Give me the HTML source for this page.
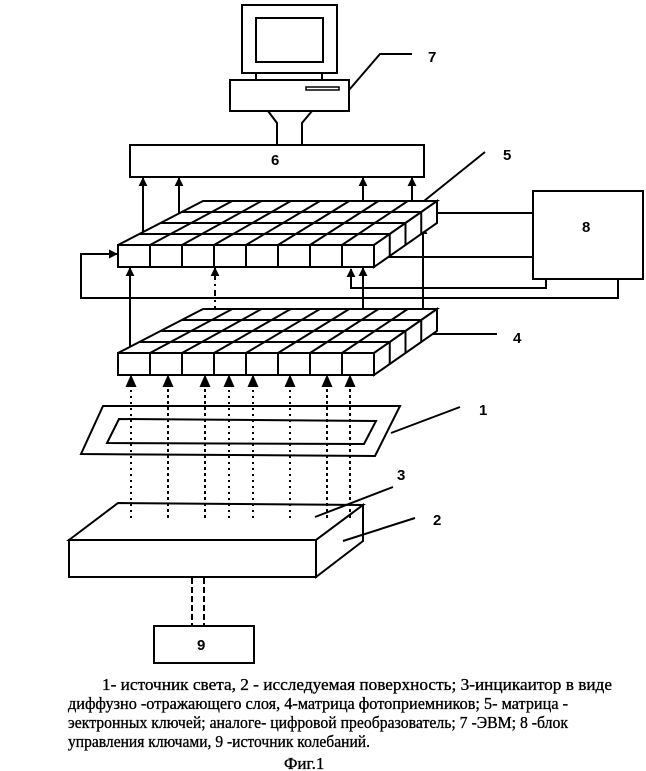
<!DOCTYPE html>
<html><head><meta charset="utf-8"><style>
html,body{margin:0;padding:0;background:#fff;}
svg{display:block;}
text{font-family:"Liberation Serif",serif;fill:#000;}
.lb{font-family:"Liberation Sans",sans-serif;font-weight:bold;font-size:15px;}
.tx{stroke:#000;stroke-width:0.35;}
</style></head><body>
<svg id="s" width="646" height="771" viewBox="0 0 646 771" xmlns="http://www.w3.org/2000/svg">
<defs>
<marker id="a" viewBox="0 0 10 10" refX="9" refY="5" markerWidth="9" markerHeight="9" markerUnits="userSpaceOnUse" orient="auto">
<path d="M0,0 L10,5 L0,10 z" fill="#000"/></marker>
</defs>
<g id="g" stroke="#000" stroke-width="2" fill="none">
<rect x="242" y="5" width="95" height="68" fill="#fff"/>
<rect x="256" y="18" width="67" height="44"/>
<line x1="256" y1="73" x2="256" y2="80"/><line x1="322" y1="73" x2="322" y2="80"/>
<rect x="230" y="80" width="119" height="31" fill="#fff"/>
<rect x="306" y="87" width="33" height="3" stroke-width="1.5"/>
<path d="M268,111 L312,111 L302,123 L302,145 M268,111 L277,123 L277,145"/>
<polyline points="349,90 380,54 412,54"/>
<rect x="130" y="145" width="294" height="32" fill="#fff"/>
<line x1="424" y1="201" x2="485" y2="152"/>
<line x1="420" y1="334" x2="497" y2="334"/>
<rect x="533" y="191" width="110" height="88"/>
<line x1="533" y1="213" x2="428" y2="213" marker-end="url(#a)"/>
<line x1="533" y1="257" x2="376" y2="257" marker-end="url(#a)"/>
<polyline points="546,279 546,288 351,288 351,269" marker-end="url(#a)"/>
<polyline points="618,279 618,298 81,298 81,254 117,254" marker-end="url(#a)"/>
<line x1="423" y1="340" x2="423" y2="226" marker-end="url(#a)"/>
<line x1="143" y1="245" x2="143" y2="178" marker-end="url(#a)"/>
<line x1="179" y1="245" x2="179" y2="178" marker-end="url(#a)"/>
<line x1="363" y1="245" x2="363" y2="178" marker-end="url(#a)"/>
<line x1="412" y1="212" x2="412" y2="178" marker-end="url(#a)"/>
<line x1="130" y1="353" x2="130" y2="268" marker-end="url(#a)"/>
<line x1="363" y1="353" x2="363" y2="268" marker-end="url(#a)"/>
<line x1="215" y1="312" x2="215" y2="268" stroke-dasharray="6,4,2,4" marker-end="url(#a)"/>
<polygon points="81,454 103,406 400,406 375,456" fill="#fff"/>
<polygon points="107,443 119,419 376,421 364,444"/>
<line x1="391" y1="433" x2="460" y2="407"/>
<polygon points="69,540 118,503 363,505 316,540" fill="#fff"/>
<rect x="69" y="540" width="247" height="37" fill="#fff"/>
<polygon points="316,540 363,505 363,541 316,577" fill="#fff"/>
<line x1="315" y1="517" x2="393" y2="487"/>
<line x1="343" y1="541" x2="415" y2="518"/>
<line x1="192" y1="578" x2="192" y2="626" stroke-dasharray="6,3"/>
<line x1="204" y1="578" x2="204" y2="626" stroke-dasharray="6,3"/>
<rect x="154" y="626" width="100" height="37"/>
</g>
<g>
<text class="lb" x="271" y="165">6</text>
<text class="lb" x="428" y="62">7</text>
<text class="lb" x="503" y="160">5</text>
<text class="lb" x="513" y="343">4</text>
<text class="lb" x="582" y="232">8</text>
<text class="lb" x="479" y="415">1</text>
<text class="lb" x="397" y="480">3</text>
<text class="lb" x="433" y="525">2</text>
<text class="lb" x="197" y="650">9</text>
</g>
<g class="tx">
<text x="102" y="690" font-size="17" textLength="510" lengthAdjust="spacingAndGlyphs">1- источник света, 2 - исследуемая поверхность; 3-инцикаитор в виде</text>
<text x="68" y="709" font-size="17" textLength="500" lengthAdjust="spacingAndGlyphs">диффузно -отражающего слоя, 4-матрица фотоприемников; 5- матрица -</text>
<text x="68" y="728" font-size="17" textLength="500" lengthAdjust="spacingAndGlyphs">эектронных ключей; аналоге- цифровой преобразователь; 7 -ЭВМ; 8 -блок</text>
<text x="68" y="747" font-size="17" textLength="302" lengthAdjust="spacingAndGlyphs">управления ключами, 9 -источник колебаний.</text>
<text x="284" y="769" font-size="17">Фиг.1</text>
</g>
</svg>
<script>
(function(){
var g=document.getElementById('g');var NS='http://www.w3.org/2000/svg';
function el(t,a){var e=document.createElementNS(NS,t);for(var k in a)e.setAttribute(k,a[k]);g.appendChild(e);return e;}
function L(x1,y1,x2,y2){el('line',{x1:x1,y1:y1,x2:x2,y2:y2});}
function matrix(y0){
 var fl=118,fr=374,bl=203,br=437,h=22,by=y0-44;
 el('polygon',{points:fl+','+y0+' '+bl+','+by+' '+br+','+by+' '+fr+','+y0,fill:'#fff'});
 el('polygon',{points:fr+','+y0+' '+br+','+by+' '+br+','+(by+h)+' '+fr+','+(y0+h),fill:'#fff'});
 el('rect',{x:fl,y:y0,width:fr-fl,height:h,fill:'#fff'});
 for(var i=1;i<4;i++){var t=i/4;var y=y0+(by-y0)*t;var xl=fl+(bl-fl)*t,xr=fr+(br-fr)*t;L(xl,y,xr,y);
  L(xr,y,xr,y+h);}
 for(var j=1;j<8;j++){var u=j/8;var xf=fl+(fr-fl)*u,xb=bl+(br-bl)*u;L(xf,y0,xb,by);L(xf,y0,xf,y0+h);}
}
matrix(353);matrix(245);
var xs=[131,168,205,229,253,290,327,350];
xs.forEach(function(x,i){
 var d=(i==0||i==3||i==4||i==5)?'2,4':'3,3';
 el('line',{x1:x,y1:518,x2:x,y2:380,'stroke-dasharray':d});
 el('path',{d:'M'+(x-4)+',386 L'+x+',377 L'+(x+4)+',386 z',fill:'#000'});
});
})();
</script>
</body></html>
